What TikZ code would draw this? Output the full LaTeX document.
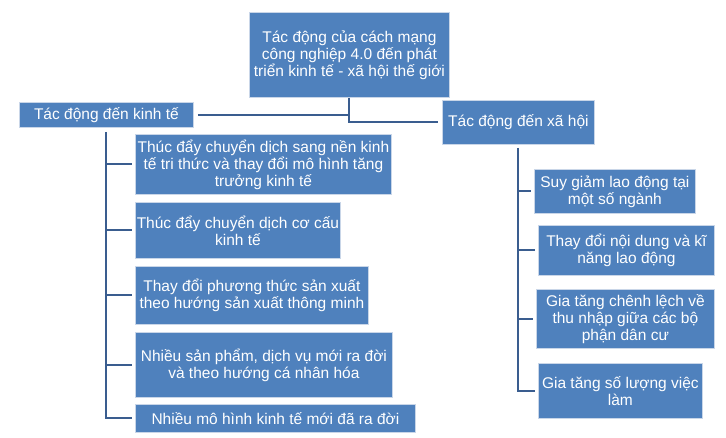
\documentclass[tikz,border=0pt]{standalone}
\usepackage{fontspec}
\setmainfont{Liberation Sans}
\definecolor{boxblue}{HTML}{4F81BD}
\definecolor{boxedge}{HTML}{C9D6E8}
\definecolor{linkblue}{HTML}{3A5D8F}
\begin{document}
\begin{tikzpicture}[x=1pt,y=-1pt,
  card/.style={draw=boxedge,line width=0.8pt,fill=boxblue,text=white,
    anchor=north west,inner sep=0pt,align=center,
    font=\fontsize{15.5}{17}\selectfont},
  link/.style={draw=linkblue,line width=2pt}]
\useasboundingbox (0,0) rectangle (726,438);
% helper to place box by corners
\newcommand{\cardat}[6]{\node[card,minimum width=#4-#2,minimum height=#5-#3] (#1) at (#2,#3) {#6};}
\cardat{top}{249}{12}{449}{97}{Tác động của cách mạng\\công nghiệp 4.0 đến phát\\triển kinh tế - xã hội thế giới}
\cardat{kt}{19}{102}{193}{127}{Tác động đến kinh tế}
\cardat{xh}{442}{100}{594}{144}{Tác động đến xã hội}
\cardat{b1}{135}{134}{391}{194}{Thúc đẩy chuyển dịch sang nền kinh\\tế tri thức và thay đổi mô hình tăng\\trưởng kinh tế}
\cardat{b2}{135}{202}{340}{258}{Thúc đẩy chuyển dịch cơ cấu\\kinh tế}
\cardat{b3}{135}{266}{368}{324}{Thay đổi phương thức sản xuất\\theo hướng sản xuất thông minh}
\cardat{b4}{135}{332}{392}{397}{Nhiều sản phẩm, dịch vụ mới ra đời\\và theo hướng cá nhân hóa}
\cardat{b5}{135}{404}{415}{432}{Nhiều mô hình kinh tế mới đã ra đời}
\cardat{s1}{534}{169}{695}{213}{Suy giảm lao động tại\\một số ngành}
\cardat{s2}{538}{225}{714}{275}{Thay đổi nội dung và kĩ\\năng lao động}
\cardat{s3}{536}{289}{714}{348}{Gia tăng chênh lệch về\\thu nhập giữa các bộ\\phận dân cư}
\cardat{s4}{538}{363}{702}{418}{Gia tăng số lượng việc\\làm}
\coordinate (ls) at (106,132);
\coordinate (rs) at (518,148);
% top connectors
\draw[link,shorten <=4pt] (kt.east) -- (kt.east -| top.south);
\draw[link,shorten >=4pt] (top.south) |- (xh.west);
% left branch
\draw[link,shorten >=3pt] (ls) |- (b5.west);
\foreach \b in {b1,b2,b3,b4}{\draw[link,shorten >=3pt] (ls |- \b.west) -- (\b.west);}
% right branch
\draw[link,shorten >=3pt] (rs) |- (s4.west);
\foreach \b in {s1,s2,s3}{\draw[link,shorten >=3pt] (rs |- \b.west) -- (\b.west);}
\end{tikzpicture}
\end{document}
